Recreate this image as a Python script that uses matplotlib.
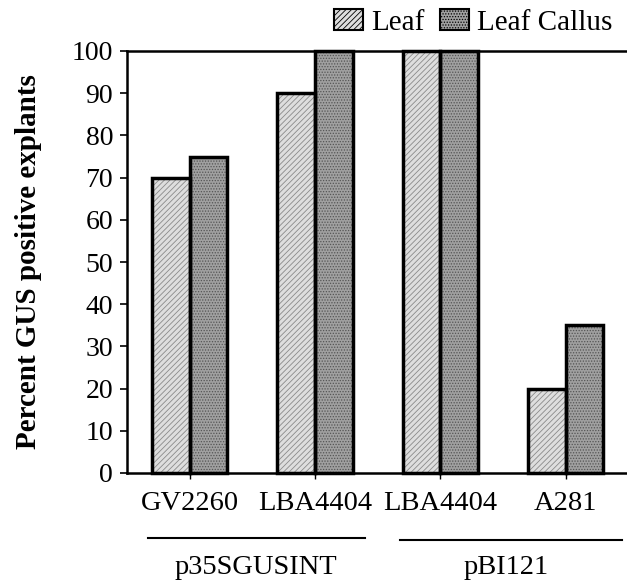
import matplotlib
matplotlib.use("Agg")
import matplotlib.pyplot as plt
import numpy as np
from matplotlib.patches import Patch

categories = ["GV2260", "LBA4404", "LBA4404", "A281"]
leaf = [70, 90, 100, 20]
leaf_callus = [75, 100, 100, 35]
groups = ["p35SGUSINT", "pBI121"]
yticks = list(range(0, 101, 10))

plt.rcParams['font.family'] = ['Liberation Serif', 'DejaVu Serif']
plt.rcParams['hatch.linewidth'] = 0.6

fig = plt.figure(figsize=(6.27, 5.87), dpi=100)
ax = fig.add_axes([127/627, 1 - 473/587, 499/627, 422/587])

x = np.arange(len(categories))
w = 0.3
# hatched fills
ax.bar(x - w/2, leaf, w, facecolor='#dedede', edgecolor='#8a8a8a', linewidth=0,
       hatch='//////', clip_on=False)
ax.bar(x + w/2, leaf_callus, w, facecolor='#a0a0a0', edgecolor='#555555', linewidth=0,
       hatch='......', clip_on=False)
# outlines
ax.bar(x - w/2, leaf, w, facecolor='none', edgecolor='black', linewidth=2.5, clip_on=False)
ax.bar(x + w/2, leaf_callus, w, facecolor='none', edgecolor='black', linewidth=2.5, clip_on=False)

ax.set_xlim(-0.5, 3.48)
ax.set_ylim(0, 100)
ax.set_yticks(yticks)
ax.set_xticks(x)
ax.set_xticklabels(categories, fontsize=20.5)
ax.tick_params(axis='y', labelsize=20, direction='out', length=5, width=1.2, pad=5)
ax.tick_params(axis='x', direction='out', length=4, width=1, pad=9)
ax.spines['right'].set_visible(False)
for s in ['left', 'bottom', 'top']:
    ax.spines[s].set_linewidth(1.8)
ax.set_ylabel("Percent GUS positive explants", fontsize=21, fontweight='bold')
ax.yaxis.set_label_coords(-(127 - 42) / 499, 0.5)

fig.add_artist(plt.Line2D([148/627, 365/627], [1 - 538/587]*2, color='black', lw=1.5))
fig.add_artist(plt.Line2D([400/627, 622/627], [1 - 540/587]*2, color='black', lw=1.5))
fig.text(256/627, 1 - 567/587, groups[0], ha='center', va='center', fontsize=20.5)
fig.text(506/627, 1 - 567/587, groups[1], ha='center', va='center', fontsize=20.5)

h1 = Patch(facecolor='#dedede', edgecolor='black', hatch='//////', linewidth=1.5)
h2 = Patch(facecolor='#a0a0a0', edgecolor='black', hatch='......', linewidth=1.5)
fig.legend(handles=[h1, h2], labels=['Leaf', 'Leaf Callus'], loc='upper right',
           bbox_to_anchor=(1.01, 1.02), ncol=2,
           frameon=False, fontsize=21, handlelength=1.0, handleheight=0.75,
           handletextpad=0.3, columnspacing=0.5, borderpad=0.2)

fig.savefig("out.png", dpi=100)
